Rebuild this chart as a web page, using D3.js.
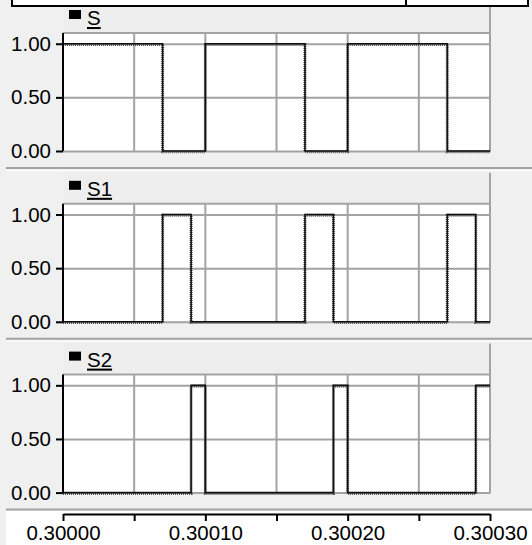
<!DOCTYPE html>
<html>
<head>
<meta charset="utf-8">
<script src="https://cdn.jsdelivr.net/npm/d3@7"></script>
<style>
  html, body { margin: 0; padding: 0; background: #f0f0f0; }
  svg { display: block; }
  text { font-family: "Liberation Sans", Arial, sans-serif; }
</style>
</head>
<body>
<svg id="chart" width="532" height="545"></svg>
<script>
// ---- data ----
const seriesNames = ["S", "S1", "S2"];
const sTimes  = [0.30000, 0.30007, 0.30010, 0.30017, 0.30020, 0.30027, 0.30030];
const sValues = [1, 0, 1, 0, 1, 0, 0];
const s1Times  = [0.30000, 0.30007, 0.30009, 0.30017, 0.30019, 0.30027, 0.30029, 0.30030];
const s1Values = [0, 1, 0, 1, 0, 1, 0, 0];
const s2Times  = [0.30000, 0.30009, 0.30010, 0.30019, 0.30020, 0.30029, 0.30030];
const s2Values = [0, 1, 0, 1, 0, 1, 1];
const xTickLabels = [0.30000, 0.30010, 0.30020, 0.30030];
const xMinorTicks = [0.30005, 0.30015, 0.30025];
const xGridTicks = [0.30005, 0.30010, 0.30015, 0.30020, 0.30025];
const yTicks = [0, 0.5, 1];

const seriesTimes = [sTimes, s1Times, s2Times];
const seriesValues = [sValues, s1Values, s2Values];

// ---- layout ----
const svg = d3.select("#chart");
const W = 532, H = 545;
const left = 63, right = 490;
const panelStep = 170.8;
const FONT = 20.5;
const grid = "#a3a3a3";
const FF = '"Liberation Sans", Arial, sans-serif';

svg.append("rect").attr("x", 0).attr("y", 0).attr("width", W).attr("height", H).attr("fill", "#f0f0f0");

const x = d3.scaleLinear().domain([0.30000, 0.30030]).range([left, right]);

seriesNames.forEach((name, i) => {
  const o = i * panelStep;
  const g = svg.append("g").attr("transform", `translate(0,${o})`);
  const y = d3.scaleLinear().domain([0, 1.1]).range([151, 33]);

  // header
  g.append("rect").attr("x", left).attr("y", 2).attr("width", right - left).attr("height", 31).attr("fill", "#eeeeee");
  // plot bg
  g.append("rect").attr("x", left).attr("y", 33).attr("width", right - left).attr("height", 118).attr("fill", "#ffffff");

  // grid verticals
  g.selectAll(".vg").data(xGridTicks).enter().append("line")
    .attr("x1", d => x(d)).attr("x2", d => x(d)).attr("y1", 33).attr("y2", 151)
    .attr("stroke", grid).attr("stroke-width", 2);
  // grid horizontals
  g.selectAll(".hg").data(yTicks).enter().append("line")
    .attr("x1", left).attr("x2", right).attr("y1", d => y(d) + 0.5).attr("y2", d => y(d) + 0.5)
    .attr("stroke", grid).attr("stroke-width", 2);
  // header bottom / plot top
  g.append("line").attr("x1", left).attr("x2", right + 1).attr("y1", 33).attr("y2", 33)
    .attr("stroke", grid).attr("stroke-width", 2);
  // right border
  g.append("line").attr("x1", right).attr("x2", right).attr("y1", 2).attr("y2", 152)
    .attr("stroke", grid).attr("stroke-width", 2);

  // signal
  const line = d3.line().x((d, k) => x(seriesTimes[i][k])).y(d => y(d)).curve(d3.curveStepAfter);
  g.append("path").datum(seriesValues[i]).attr("d", line)
    .attr("fill", "none").attr("stroke", "#555").attr("stroke-width", 3)
    .attr("stroke-dasharray", "1,1").attr("transform", "translate(0,0.8)");
  g.append("path").datum(seriesValues[i]).attr("d", line)
    .attr("fill", "none").attr("stroke", "#111").attr("stroke-width", 1.6);

  // y axis
  const ya = g.append("g").attr("transform", `translate(${left},0)`)
    .call(d3.axisLeft(y).tickValues(yTicks).tickFormat(d3.format(".2f")).tickSize(7).tickSizeOuter(0));
  ya.select(".domain").attr("stroke", "#000").attr("stroke-width", 2).attr("d", `M0,33V${y(0)}`);
  ya.selectAll(".tick line").attr("stroke", "#000").attr("stroke-width", 2);
  ya.selectAll(".tick text").attr("font-size", FONT).attr("fill", "#000").attr("x", -12)
    .style("font-family", FF);

  // legend
  g.append("rect").attr("x", 69).attr("y", 10).attr("width", 12).attr("height", 9).attr("fill", "#000");
  g.append("text").attr("x", 87).attr("y", 25).attr("font-size", FONT).attr("fill", "#000")
    .style("font-family", FF).style("text-decoration", "underline").text(name);

  // separator
  g.append("line").attr("x1", 6).attr("x2", W).attr("y1", 168).attr("y2", 168)
    .attr("stroke", grid).attr("stroke-width", 2);
  g.append("line").attr("x1", 6).attr("x2", W).attr("y1", 170.5).attr("y2", 170.5)
    .attr("stroke", "#fafafa").attr("stroke-width", 1.5);
});

// bottom axis region
const axY = 514;
svg.append("rect").attr("x", 6).attr("y", 511).attr("width", W - 6).attr("height", H - 511).attr("fill", "#ffffff");
const xa = svg.append("g").attr("transform", `translate(0,${axY})`)
  .call(d3.axisBottom(x).tickValues(xTickLabels).tickFormat(d3.format(".5f")).tickSize(7).tickSizeOuter(0));
xa.select(".domain").attr("stroke", "#000").attr("stroke-width", 2);
xa.selectAll(".tick line").attr("stroke", "#000").attr("stroke-width", 2);
xa.selectAll(".tick text").attr("font-size", FONT).attr("fill", "#000").attr("y", 11)
  .style("font-family", FF);
svg.append("g").attr("transform", `translate(0,${axY})`)
  .call(d3.axisBottom(x).tickValues(xMinorTicks).tickFormat("").tickSize(7).tickSizeOuter(0))
  .call(s => s.select(".domain").remove())
  .selectAll(".tick line").attr("stroke", "#000").attr("stroke-width", 2);

// top bar
svg.append("rect").attr("x", 12).attr("y", -3).attr("width", 516).attr("height", 9)
  .attr("fill", "#ffffff").attr("stroke", "#000").attr("stroke-width", 2);
svg.append("line").attr("x1", 406).attr("x2", 406).attr("y1", 0).attr("y2", 6)
  .attr("stroke", "#000").attr("stroke-width", 2);
</script>
</body>
</html>
